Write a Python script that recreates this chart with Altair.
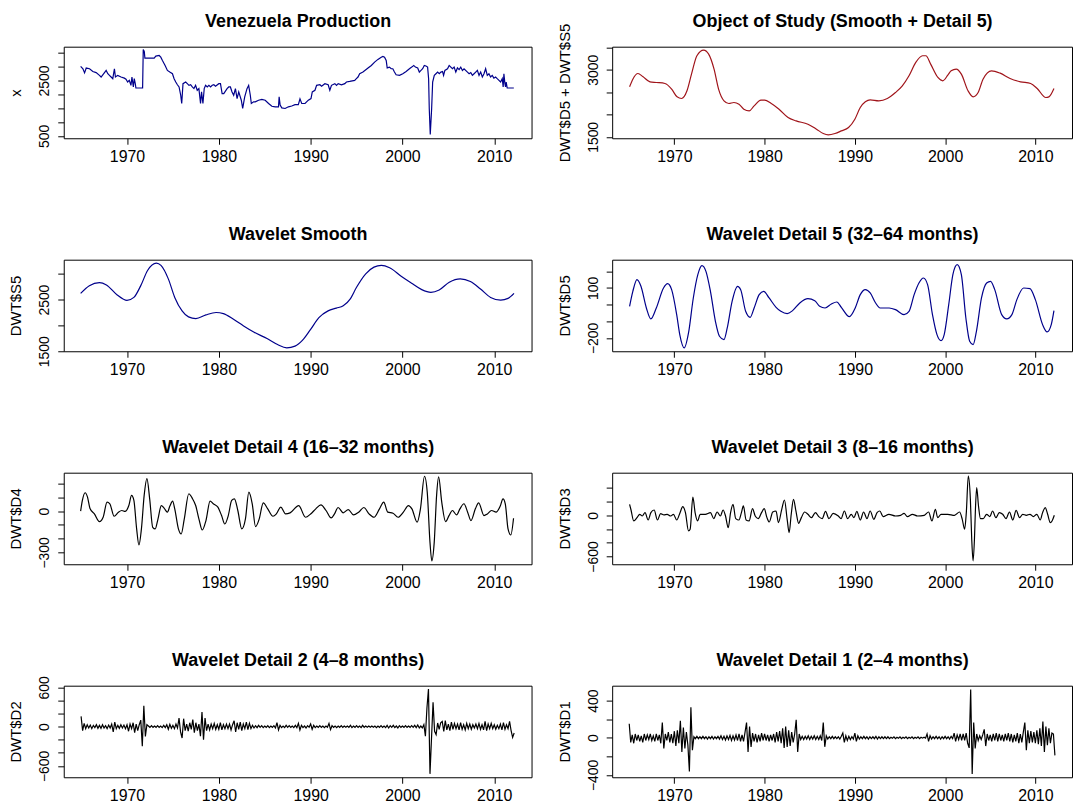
"""Venezuela oil production and its wavelet (MODWT) decomposition, eight panels."""

import altair as alt
import pandas as pd

FONT = 'Liberation Sans'
PANEL_W_LEFT = 470
PANEL_W_RIGHT = 462
PANEL_H = 92
X_DOMAIN = [1963.11, 2014.06]
X_TICKS = [1970, 1980, 1990, 2000, 2010]
BLUE = '#00008B'
RED = '#A0141A'
BLACK = '#000000'

# --- Venezuela production (monthly) ---
PROD_YEARS = [
    1964.95, 1965.20, 1965.38, 1965.56, 1965.92, 1966.28, 1966.64, 1967.00, 1967.18, 1967.55,
    1967.73, 1967.91, 1968.09, 1968.27, 1968.45, 1968.63, 1968.74, 1968.99, 1969.35, 1969.71,
    1969.89, 1970.07, 1970.25, 1970.43, 1970.54, 1970.69, 1970.79, 1970.90, 1970.97, 1971.70,
    1971.77, 1971.88, 1971.95, 1972.42, 1972.96, 1973.14, 1973.50, 1973.68, 1973.86, 1974.15,
    1974.40, 1974.66, 1974.95, 1975.13, 1975.31, 1975.49, 1975.67, 1975.85, 1975.96, 1976.10,
    1976.39, 1976.57, 1976.75, 1976.93, 1977.11, 1977.29, 1977.47, 1977.65, 1977.83, 1978.01,
    1978.12, 1978.27, 1978.41, 1978.56, 1978.74, 1978.92, 1979.10, 1979.28, 1979.46, 1979.64,
    1980.00, 1980.18, 1980.36, 1980.54, 1980.90, 1981.08, 1981.26, 1981.44, 1981.62, 1981.81,
    1981.99, 1982.17, 1982.45, 1982.60, 1982.82, 1983.07, 1983.25, 1983.43, 1983.54, 1983.79,
    1983.97, 1984.33, 1984.69, 1985.05, 1985.42, 1985.78, 1986.14, 1986.50, 1986.57, 1986.68,
    1986.86, 1987.22, 1987.58, 1987.94, 1988.30, 1988.66, 1988.84, 1989.03, 1989.39, 1989.75,
    1990.04, 1990.18, 1990.47, 1990.65, 1991.01, 1991.19, 1991.55, 1991.91, 1992.09, 1992.27,
    1992.64, 1992.82, 1993.00, 1993.36, 1993.72, 1993.90, 1994.26, 1994.80, 1994.98, 1995.16,
    1995.34, 1995.70, 1996.25, 1996.61, 1996.97, 1997.33, 1997.69, 1997.87, 1998.05, 1998.23,
    1998.34, 1998.59, 1998.77, 1998.95, 1999.13, 1999.31, 1999.68, 2000.04, 2000.40, 2000.76,
    2001.01, 2001.23, 2001.41, 2001.66, 2001.84, 2002.02, 2002.20, 2002.38, 2002.56, 2002.74,
    2002.85, 2002.92, 2003.03, 2003.18, 2003.29, 2003.47, 2003.65, 2003.83, 2004.01, 2004.19,
    2004.37, 2004.48, 2004.62, 2004.91, 2005.09, 2005.27, 2005.45, 2005.63, 2005.81, 2005.99,
    2006.17, 2006.35, 2006.53, 2006.71, 2007.08, 2007.26, 2007.44, 2007.62, 2007.80, 2007.98,
    2008.16, 2008.34, 2008.52, 2008.70, 2008.88, 2009.06, 2009.24, 2009.42, 2009.60, 2009.78,
    2009.96, 2010.14, 2010.32, 2010.51, 2010.69, 2010.87, 2010.97, 2011.05, 2011.16, 2011.23,
    2011.30, 2011.41, 2012.13,
]
PROD_VALUES = [
    3015, 2930, 2780, 2955, 2930, 2830, 2790, 2690, 2630, 2790,
    2870, 2750, 2690, 2630, 2570, 2930, 2630, 2690, 2630, 2590,
    2550, 2450, 2510, 2330, 2630, 2270, 2570, 2390, 2233, 2233,
    3630, 3560, 3316, 3316, 3316, 3388, 3412, 3352, 3232, 3051,
    2870, 2810, 2750, 2570, 2450, 2350, 2270, 1970, 1670, 2390,
    2450, 2390, 2330, 2350, 2270, 2210, 2330, 2150, 2210, 1670,
    2090, 1670, 2210, 2330, 2270, 2330, 2270, 2330, 2350, 2300,
    2390, 2390, 2030, 2030, 2210, 2270, 2270, 2090, 1970, 2210,
    1850, 2090, 1790, 1490, 1910, 2210, 2330, 1970, 1670, 1730,
    1730, 1790, 1820, 1790, 1670, 1570, 1550, 1550, 1910, 1610,
    1510, 1490, 1550, 1580, 1630, 1630, 1840, 1670, 1670, 1790,
    1850, 2090, 2150, 2330, 2350, 2300, 2390, 2350, 2150, 2330,
    2390, 2330, 2390, 2350, 2390, 2450, 2470, 2510, 2570, 2630,
    2750, 2810, 2960, 3050, 3170, 3270, 3350, 3380, 3350, 3230,
    2960, 2990, 2930, 2930, 2810, 2710, 2690, 2750, 2830, 2930,
    2990, 3050, 2990, 2960, 2810, 2870, 2930, 3050, 3030, 2990,
    2570, 1490, 550, 1490, 2450, 2690, 2750, 2810, 2750, 2810,
    2830, 2690, 2870, 2930, 3050, 2990, 2930, 2990, 2810, 2960,
    2900, 2990, 2870, 2930, 2810, 2750, 2790, 2690, 2750, 2810,
    2870, 2690, 2810, 2630, 2750, 2930, 2690, 2750, 2630, 2690,
    2590, 2630, 2570, 2510, 2450, 2570, 2270, 2750, 2390, 2270,
    2450, 2233, 2233,
]

# --- Object of study: smooth + detail 5 ---
OBJ_YEARS = [
    1965.04, 1965.40, 1965.97, 1966.50, 1967.30, 1968.00, 1968.96, 1969.70, 1970.30, 1970.80,
    1971.40, 1971.90, 1972.50, 1973.25, 1973.80, 1974.40, 1974.90, 1975.50, 1976.04, 1976.60,
    1977.16, 1977.70, 1978.30, 1978.84, 1979.60, 1980.00, 1980.70, 1981.60, 1982.60, 1983.50,
    1984.80, 1985.75, 1986.50, 1987.05, 1987.80, 1988.50, 1989.30, 1990.00, 1990.60, 1991.16,
    1991.70, 1992.65, 1993.60, 1994.50, 1995.26, 1996.00, 1996.75, 1997.50, 1997.87, 1998.40,
    1999.20, 1999.74, 2000.30, 2000.67, 2001.23, 2001.80, 2002.54, 2003.10, 2003.66, 2004.20,
    2005.15, 2006.10, 2007.20, 2008.36, 2009.48, 2010.20, 2011.16, 2011.50, 2012.06,
]
OBJ_VALUES = [
    2619, 2790, 2917, 2850, 2731, 2716, 2694, 2567, 2395, 2358,
    2530, 2902, 3313, 3440, 3350, 3014, 2567, 2306, 2246, 2268,
    2231, 2119, 2082, 2194, 2321, 2321, 2253, 2119, 1933, 1858,
    1783, 1672, 1575, 1545, 1575, 1634, 1709, 1895, 2156, 2283,
    2328, 2306, 2358, 2492, 2641, 2865, 3164, 3313, 3313, 3126,
    2828, 2753, 2880, 2977, 3014, 2902, 2530, 2395, 2492, 2790,
    2977, 2925, 2806, 2731, 2694, 2582, 2380, 2395, 2582,
]

# --- Wavelet smooth S5 ---
S5_YEARS = [
    1964.95, 1965.90, 1967.00, 1967.76, 1968.90, 1970.00, 1970.75, 1971.50, 1972.24, 1973.20,
    1973.70, 1974.50, 1975.20, 1976.00, 1976.70, 1977.50, 1978.60, 1979.70, 1980.50, 1981.60,
    1982.70, 1983.80, 1985.30, 1986.40, 1987.40, 1988.30, 1989.10, 1990.00, 1990.90, 1991.90,
    1992.80, 1993.55, 1994.30, 1995.00, 1996.00, 1996.90, 1997.70, 1998.60, 1999.90, 2001.00,
    2002.10, 2003.10, 2004.00, 2005.10, 2006.30, 2007.40, 2008.50, 2009.60, 2010.70, 2011.50,
    2012.15,
]
S5_VALUES = [
    2621, 2771, 2830, 2784, 2595, 2485, 2543, 2771, 3065, 3208,
    3163, 2902, 2543, 2282, 2165, 2132, 2204, 2250, 2230, 2119,
    1989, 1872, 1741, 1630, 1565, 1598, 1709, 1924, 2152, 2282,
    2335, 2380, 2511, 2739, 3000, 3130, 3163, 3117, 2947, 2817,
    2693, 2641, 2687, 2837, 2902, 2850, 2706, 2543, 2491, 2524,
    2621,
]

# --- Detail 5 (32-64 months) ---
D5_YEARS = [
    1965.04, 1965.40, 1965.86, 1966.30, 1966.90, 1967.40, 1968.00, 1968.80, 1969.25, 1969.70,
    1970.26, 1970.60, 1971.10, 1971.57, 1972.10, 1972.60, 1973.06, 1973.50, 1974.00, 1974.55,
    1975.00, 1975.50, 1975.86, 1976.40, 1977.00, 1977.35, 1977.90, 1978.40, 1978.84, 1979.40,
    1979.90, 1980.50, 1981.27, 1981.80, 1982.50, 1983.10, 1983.90, 1984.80, 1985.56, 1986.10,
    1986.70, 1987.40, 1988.00, 1988.50, 1989.40, 1990.04, 1990.60, 1991.16, 1991.70, 1992.30,
    1992.80, 1993.80, 1994.50, 1995.45, 1996.00, 1996.57, 1997.10, 1997.60, 1998.06, 1998.60,
    1999.10, 1999.55, 1999.90, 2000.40, 2000.86, 2001.34, 2001.80, 2002.30, 2002.72, 2003.10,
    2003.47, 2004.03, 2004.60, 2005.04, 2005.50, 2006.27, 2006.83, 2007.40, 2007.95, 2008.70,
    2009.40, 2010.00, 2010.80, 2011.30, 2011.76, 2012.06,
]
D5_VALUES = [
    -10, 80, 150, 110, -20, -86, -20, 100, 126, 90,
    -60, -180, -260, -170, 40, 180, 234, 200, 80, -100,
    -190, -210, -140, 20, 110, 90, -40, -76, -20, 60,
    80, 40, -16, -40, -54, -36, 10, 36, 24, -10,
    -20, 4, 16, -16, -72, -20, 60, 90, 70, 10,
    -20, -20, -30, -60, -40, 60, 130, 160, 120, -60,
    -180, -216, -180, 0, 180, 240, 180, -80, -220, -240,
    -160, 40, 130, 140, 90, -60, -86, -60, 30, 100,
    96, 30, -120, -164, -120, -36,
]

# --- Detail 4 (16-32 months) ---
D4_YEARS = [
    1964.95, 1965.14, 1965.44, 1965.70, 1965.96, 1966.45, 1967.00, 1967.40, 1967.83, 1968.13,
    1968.60, 1969.07, 1969.44, 1969.80, 1970.20, 1970.50, 1970.75, 1971.05, 1971.30, 1971.57,
    1971.87, 1972.17, 1972.47, 1972.80, 1973.07, 1973.36, 1973.74, 1974.04, 1974.40, 1974.67,
    1974.97, 1975.20, 1975.60, 1975.90, 1976.24, 1976.73, 1977.10, 1977.48, 1977.85, 1978.20,
    1978.60, 1979.05, 1979.40, 1979.90, 1980.30, 1980.65, 1981.03, 1981.40, 1981.70, 1982.07,
    1982.50, 1982.90, 1983.27, 1983.64, 1984.00, 1984.40, 1984.84, 1985.33, 1985.90, 1986.26,
    1986.75, 1987.27, 1987.76, 1988.70, 1989.44, 1990.00, 1990.56, 1991.12, 1991.68, 1992.24,
    1992.60, 1992.99, 1993.55, 1994.10, 1994.67, 1995.23, 1995.80, 1996.36, 1996.90, 1997.50,
    1997.96, 1998.40, 1998.97, 1999.53, 2000.10, 2000.65, 2001.03, 2001.60, 2001.96, 2002.40,
    2002.70, 2003.00, 2003.20, 2003.46, 2003.72, 2003.94, 2004.28, 2004.70, 2005.07, 2005.44,
    2005.90, 2006.26, 2006.70, 2007.10, 2007.46, 2007.94, 2008.30, 2008.88, 2009.25, 2009.70,
    2010.20, 2010.65, 2010.95, 2011.20, 2011.50, 2011.80, 2012.10,
]
D4_VALUES = [
    0, 78, 134, 102, 22, -20, -76, -44, 66, 54,
    -37, -7, 5, -2, 41, 115, 78, -129, -246, -129,
    115, 237, 90, -117, -129, -61, 41, 22, -7, 37,
    73, 17, -129, -166, -56, 127, 95, 41, -61, -137,
    -68, 73, 54, 29, -32, -93, -32, 78, 90, 5,
    -129, -56, 139, 54, -112, -56, 61, 17, -37, -20,
    29, -20, -12, 41, -44, -20, 17, 46, 5, -49,
    -20, 27, -12, 12, -27, -7, 27, -20, -44, 17,
    66, -7, -15, -44, -7, 41, 17, -80, 17, 254,
    139, -227, -361, -227, 115, 249, 66, -76, -32, 5,
    -27, 17, 54, -7, -68, 17, 61, -32, -20, 5,
    -7, 37, 90, 54, -129, -173, -51,
]

# --- Detail 3 (8-16 months) ---
D3_YEARS = [
    1965.04, 1965.20, 1965.50, 1965.86, 1966.16, 1966.45, 1966.75, 1967.10, 1967.40, 1967.76,
    1968.13, 1968.47, 1968.84, 1969.20, 1969.60, 1969.90, 1970.26, 1970.63, 1970.93, 1971.23,
    1971.57, 1971.75, 1972.05, 1972.30, 1972.57, 1972.87, 1973.43, 1974.00, 1974.37, 1974.74,
    1975.10, 1975.40, 1975.67, 1975.97, 1976.23, 1976.50, 1976.80, 1977.16, 1977.43, 1977.65,
    1977.95, 1978.28, 1978.66, 1978.96, 1979.30, 1979.66, 1979.96, 1980.26, 1980.52, 1980.90,
    1981.27, 1981.53, 1981.90, 1982.20, 1982.50, 1982.72, 1982.95, 1983.20, 1983.47, 1983.77,
    1984.07, 1984.44, 1984.80, 1985.19, 1985.63, 1986.00, 1986.38, 1986.75, 1987.13, 1987.60,
    1988.17, 1988.47, 1988.84, 1989.20, 1989.60, 1989.90, 1990.22, 1990.60, 1990.97, 1991.34,
    1991.70, 1992.10, 1992.46, 1992.76, 1993.13, 1993.77, 1994.50, 1995.07, 1995.45, 1995.82,
    1996.38, 1996.94, 1997.69, 1998.17, 1998.54, 1998.92, 1999.18, 1999.55, 2000.30, 2001.04,
    2001.60, 2001.90, 2002.16, 2002.35, 2002.57, 2002.80, 2002.95, 2003.10, 2003.25, 2003.36,
    2003.50, 2003.70, 2003.92, 2004.22, 2004.60, 2004.96, 2005.26, 2005.63, 2006.00, 2006.38,
    2006.75, 2007.13, 2007.50, 2007.87, 2008.25, 2008.60, 2009.00, 2009.40, 2009.78, 2010.16,
    2010.54, 2010.80, 2011.10, 2011.36, 2011.66, 2011.85, 2012.10,
]
D3_VALUES = [
    160, 77, -82, -34, 15, -10, 39, -68, 39, 77,
    -68, 24, 5, 15, -10, 15, -68, 39, 126, 39,
    -227, -203, 266, 39, -82, 15, 15, 39, -48, 48,
    -10, 77, -10, -179, 39, 160, -48, -68, 39, 136,
    -68, -82, 97, -10, -48, 39, 97, -34, -97, 48,
    63, -106, 87, 223, -58, -252, 15, 232, 63, -116,
    -34, 48, 15, -34, 39, -19, -48, 58, -48, 29,
    -10, -48, 63, -48, 15, -34, 58, -68, 48, -48,
    63, -58, 39, 63, -19, 15, -10, 0, 29, -19,
    15, -10, 0, 48, -82, 87, -34, 15, 15, 0,
    48, -58, -203, 39, 571, 232, -348, -663, -348, 87,
    402, 136, -48, -48, 15, -19, 63, -34, 39, 15,
    -48, 48, -68, 73, -34, 15, 0, 15, -19, 15,
    -68, 39, 111, 15, -106, -82, 0,
]

# --- Details 2 and 1: one value every two months from Jan 1965 ---
D2_VALUES = [
    157, -60, 50, -30, 30, -20,        # 1965
    25, -30, 20, -15, 30, -25,         # 1966
    20, -25, 30, -20, 15, -30,         # 1967
    25, -20, 40, -80, 70, -30,         # 1968
    20, -25, 30, -20, 25, -30,         # 1969
    30, -70, 40, -30, 60, -90,         # 1970
    40, -60, 30, 100, -300, 320,       # 1971
    -150, 30, 10, -10, 15, -10,        # 1972
    10, -10, 15, -10, 10, -15,         # 1973
    20, -15, 30, -40, 35, -25,         # 1974
    20, -30, 40, -20, 130, -80,        # 1975
    -173, 122, -60, 40, -70, 60,       # 1976
    -40, 107, -90, 60, -60, 40,        # 1977
    -147, 224, -198, 132, -60, 40,     # 1978
    -50, 40, -30, 50, -40, 30,         # 1979
    -40, 60, -50, 30, -30, 40,         # 1980
    -30, 40, -50, 30, 91, -81,         # 1981
    60, -40, 70, -60, 40, -30,         # 1982
    71, -46, 50, -30, 20, -20,         # 1983
    15, -15, 20, -10, 15, -15,         # 1984
    10, -10, 15, -15, 10, -10,         # 1985
    15, -20, 60, -50, 20, -15,         # 1986
    10, -15, 20, -10, 15, -10,         # 1987
    10, -15, 20, -15, 50, -50,         # 1988
    20, -15, 10, -20, 15, -10,         # 1989
    40, -40, 20, -15, 10, -10,         # 1990
    15, -10, 10, -15, 10, -10,         # 1991
    50, -45, 15, -10, 10, -15,         # 1992
    10, -10, 15, -10, 10, -10,         # 1993
    10, -10, 20, -15, 10, -10,         # 1994
    15, -10, 10, -15, 20, -10,         # 1995
    10, -10, 10, -10, 10, -10,         # 1996
    10, -15, 10, -10, 15, -10,         # 1997
    10, -15, 20, -20, 15, -10,         # 1998
    20, -15, 10, -20, 15, -10,         # 1999
    10, -10, 15, -10, 10, -10,         # 2000
    15, -10, 20, -15, 25, -20,         # 2001
    10, -20, 30, -147, 284, 574,       # 2002
    -721, -173, 371, -71, -122, 56,    # 2003
    -40, 60, 81, -71, 91, -50,         # 2004
    40, -60, 70, -40, 50, -30,         # 2005
    40, -50, 60, -40, 30, -50,         # 2006
    50, -30, 40, -40, 30, -20,         # 2007
    40, -30, 50, -40, 30, -50,         # 2008
    80, -60, 40, -30, 50, -30,         # 2009
    30, -40, 20, -30, 40, -50,         # 2010
    60, -40, 30, -30, 81, -60,         # 2011
    -163, -97,                         # 2012
]
D1_VALUES = [
    150, -50, 30, -60, 40, -30,        # 1965
    30, -40, 20, -50, 40, -30,         # 1966
    30, -20, 40, -30, 20, -40,         # 1967
    40, -30, 30, -60, 164, -116,       # 1968
    40, -30, 60, -50, 40, -60,         # 1969
    70, -90, 80, -60, 182, -153,       # 1970
    109, -116, 60, -80, -364, 328,     # 1971
    -135, 10, -10, 15, -10, 10,        # 1972
    -10, 15, -10, 10, -15, 10,         # 1973
    -10, 15, -15, 10, -10, 15,         # 1974
    -15, 20, -20, 15, -25, 20,         # 1975
    -20, 25, -30, 20, -25, 30,         # 1976
    -30, 40, -40, 30, -40, 60,         # 1977
    164, -153, 120, -100, 50, -40,     # 1978
    40, -50, 30, -40, 50, -30,         # 1979
    40, -30, 30, -40, 30, -30,         # 1980
    40, -50, 60, -40, 70, -60,         # 1981
    100, -110, 120, -100, 80, -90,     # 1982
    60, -50, 40, 193, -153, 40,        # 1983
    -20, 15, -20, 15, -15, 20,         # 1984
    -20, 15, -15, 20, -20, 15,         # 1985
    -20, 20, -30, 164, -98, 20,        # 1986
    -15, 10, -10, 15, -10, 10,         # 1987
    -10, 10, -15, 15, 50, -50,         # 1988
    20, -30, 15, -20, 10, -15,         # 1989
    50, -40, 20, -15, 10, -10,         # 1990
    15, -10, 10, -15, 10, -10,         # 1991
    10, -10, 15, -15, 10, -10,         # 1992
    10, -10, 10, -10, 10, -10,         # 1993
    5, -5, 10, -10, 5, -5,             # 1994
    10, -10, 5, -5, 10, -10,           # 1995
    5, -5, 10, -10, 5, -5,             # 1996
    10, -10, 5, -5, 5, -5,             # 1997
    40, -40, 20, -15, 10, -10,         # 1998
    15, -10, 10, -15, 10, -10,         # 1999
    15, -10, 10, -15, 15, -10,         # 2000
    50, -40, 30, -20, 40, -30,         # 2001
    40, -30, 50, -60, -110, 520,       # 2002
    -390, 164, -116, 40, -30, 20,      # 2003
    -20, 30, 90, -90, 40, -30,         # 2004
    30, -40, 40, -30, 50, -40,         # 2005
    40, -30, 30, -40, 40, -30,         # 2006
    50, -40, 40, -50, 30, -40,         # 2007
    50, -60, 40, -50, 60, 164,         # 2008
    -135, 80, -60, 70, -50, 60,        # 2009
    -60, 80, -70, 100, -90, 175,       # 2010
    -153, 120, -80, 100, -60, 50,      # 2011
    40, -190,                          # 2012
]


def bimonthly_years(values: list) -> list:
    """Time stamps for a series sampled every two months from January 1965."""
    return [1965 + i / 6 for i in range(len(values))]


def make_panel(years, values, title, y_title, y_domain, y_ticks, y_shown,
               color, width, interpolate='linear') -> alt.LayerChart:
    """
    One R-style panel: a boxed line plot with sparse rotated y labels. The panel title is
    drawn as the title of an empty top axis, so it sits at a fixed distance above the box.
    """
    data = pd.DataFrame({'year': years, 'value': values})
    x_scale = alt.Scale(domain=X_DOMAIN, nice=False, zero=False)
    shown = '[' + ','.join(str(v) for v in y_shown) + ']'
    label_expr = f"indexof({shown}, datum.value) >= 0 ? replace(datum.label, '-', '\u2212') : ''"

    line = alt.Chart(data).mark_line(
        color=color,
        strokeWidth=1.2,
        interpolate=interpolate,
        clip=True,
    ).encode(
        x=alt.X('year:Q', scale=x_scale, axis=alt.Axis(values=X_TICKS, format='d', title=None)),
        y=alt.Y('value:Q', scale=alt.Scale(domain=y_domain, nice=False, zero=False),
                axis=alt.Axis(values=y_ticks, format='d', title=y_title, labelExpr=label_expr)),
    )

    heading = alt.Chart(data).mark_line(opacity=0).encode(
        x=alt.X('year:Q', scale=x_scale, axis=alt.Axis(
            orient='top', title=title, labels=False, ticks=False, domain=False,
            titleFontSize=18, titleFontWeight='bold', titleBaseline='alphabetic',
            titlePadding=20, minExtent=0, maxExtent=0)),
    )

    return alt.layer(line, heading).resolve_axis(x='independent').properties(
        width=width,
        height=PANEL_H,
    )


prod = make_panel(PROD_YEARS, PROD_VALUES, 'Venezuela Production', 'x',
                  [410, 3730], [500, 1000, 1500, 2000, 2500, 3000, 3500], [500, 2500],
                  BLUE, PANEL_W_LEFT)
obj = make_panel(OBJ_YEARS, OBJ_VALUES, 'Object of Study (Smooth + Detail 5)', 'DWT$D5 + DWT$S5',
                 [1469, 3516], [1500, 2000, 2500, 3000, 3500], [1500, 3000],
                 RED, PANEL_W_RIGHT, 'monotone')
smooth = make_panel(S5_YEARS, S5_VALUES, 'Wavelet Smooth', 'DWT$S5',
                    [1499, 3274], [1500, 2000, 2500, 3000], [1500, 2500],
                    BLUE, PANEL_W_LEFT, 'monotone')
d5 = make_panel(D5_YEARS, D5_VALUES, 'Wavelet Detail 5 (32\u201364 months)', 'DWT$D5',
                [-280, 270], [-200, -100, 0, 100, 200], [-200, 100],
                BLUE, PANEL_W_RIGHT, 'monotone')
d4 = make_panel(D4_YEARS, D4_VALUES, 'Wavelet Detail 4 (16\u201332 months)', 'DWT$D4',
                [-386, 280], [-300, -200, -100, 0, 100, 200], [-300, 0],
                BLACK, PANEL_W_LEFT, 'monotone')
d3 = make_panel(D3_YEARS, D3_VALUES, 'Wavelet Detail 3 (8\u201316 months)', 'DWT$D3',
                [-712, 620], [-600, -400, -200, 0, 200, 400], [-600, 0],
                BLACK, PANEL_W_RIGHT, 'monotone')
d2 = make_panel(bimonthly_years(D2_VALUES), D2_VALUES, 'Wavelet Detail 2 (4\u20138 months)', 'DWT$D2',
                [-773, 626], [-600, -400, -200, 0, 200, 400, 600], [-600, 0, 600],
                BLACK, PANEL_W_LEFT)
d1 = make_panel(bimonthly_years(D1_VALUES), D1_VALUES, 'Wavelet Detail 1 (2\u20134 months)', 'DWT$D1',
                [-426, 560], [-400, -200, 0, 200, 400], [-400, 0, 400],
                BLACK, PANEL_W_RIGHT)

# flush bounds: only the plot boxes drive the 4x2 grid, as in R's mfrow layout
chart = alt.concat(
    prod, obj, smooth, d5, d4, d3, d2, d1,
    columns=2,
    spacing={'row': 122, 'column': 81},
    bounds='flush',
).properties(
    padding={'left': 0, 'top': 2, 'right': 0, 'bottom': 0},
    background='white',
).configure_view(
    stroke='black',
    strokeWidth=1,
).configure_axis(
    domain=False,
    grid=False,
    tickColor='black',
    tickSize=6,
    tickWidth=1,
    labelColor='black',
    labelFont=FONT,
    labelFontSize=14,
    labelOverlap=False,
    labelFlush=False,
    titleFont=FONT,
    titleFontSize=15,
    titleFontWeight='normal',
    titleColor='black',
).configure_axisY(
    labelAngle=-90,
    labelAlign='center',
    labelBaseline='bottom',
    labelPadding=6,
    minExtent=28,
    maxExtent=28,
    titlePadding=12,
).configure_axisX(
    labelFontSize=16,
    labelPadding=4,
)

chart.save('out.html', embed_options={'renderer': 'svg', 'actions': False})
